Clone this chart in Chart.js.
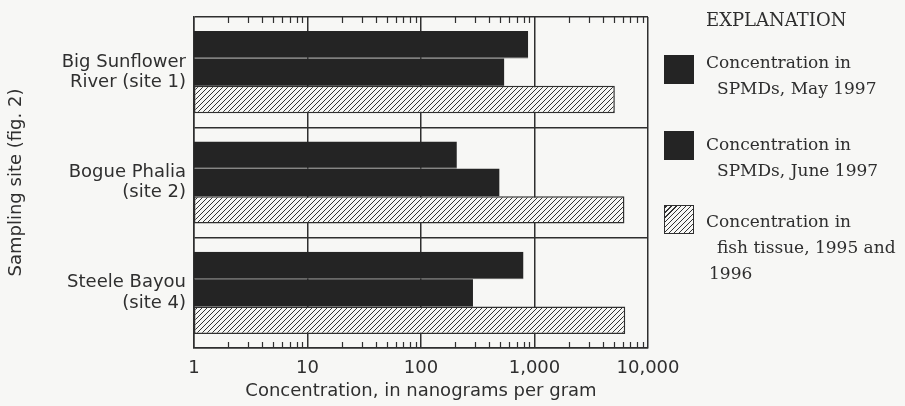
<!DOCTYPE html>
<html lang="en">
<head>
    <meta charset="UTF-8">
    <title>Concentration by sampling site</title>
    <style>
        body {
            margin: 0;
            background: #f7f7f5;
        }
        #wrap {
            position: relative;
            width: 905px;
            height: 406px;
        }
        #legend {
            position: absolute;
            left: 0;
            top: 0;
            font-family: "DejaVu Serif", serif;
            font-size: 17px;
            color: #2e2e2e;
        }
        .leg-title {
            position: absolute;
            left: 706px;
            top: 10px;
            font-size: 18px;
            line-height: 20px;
            white-space: nowrap;
        }
        .leg-item {
            position: absolute;
            left: 664px;
            white-space: nowrap;
        }
        .leg-box {
            position: absolute;
            left: 0;
            width: 30px;
            height: 29px;
            box-sizing: border-box;
        }
        .leg-line {
            position: absolute;
            line-height: 26px;
        }
    </style>
</head>
<body>
<div id="wrap">
    <canvas id="chart" width="905" height="406"></canvas>
    <div id="legend"></div>
</div>

<script src="https://cdn.jsdelivr.net/npm/chart.js"></script>
<script>
    // values (log scale, ng/g)
    const sites = [
        ['Big Sunflower', 'River (site 1)'],
        ['Bogue Phalia', '(site 2)'],
        ['Steele Bayou', '(site 4)']
    ];
    const mayValues = [880, 207, 800];
    const juneValues = [540, 490, 287];
    const fishValues = [5100, 6200, 6300];

    const xTickValues = [1, 10, 100, 1000, 10000];
    const xTickLabels = ['1', '10', '100', '1,000', '10,000'];

    const legendLines = [
        ['Concentration in', 'SPMDs, May 1997'],
        ['Concentration in', 'SPMDs, June 1997'],
        ['Concentration in', 'fish tissue, 1995 and', '1996']
    ];

    const ink = '#2f2f2f';
    const barDark = '#242424';
    const paper = '#f7f7f5';

    function hatchPattern() {
        const c = document.createElement('canvas');
        c.width = 5;
        c.height = 5;
        const g = c.getContext('2d');
        g.fillStyle = paper;
        g.fillRect(0, 0, 5, 5);
        g.strokeStyle = '#333';
        g.lineWidth = 1;
        g.beginPath();
        g.moveTo(0, 5); g.lineTo(5, 0);
        g.moveTo(-1, 1); g.lineTo(1, -1);
        g.moveTo(4, 6); g.lineTo(6, 4);
        g.stroke();
        return g.createPattern(c, 'repeat');
    }
    const hatch = hatchPattern();

    // short log ticks inside the top and bottom edges
    const minorTicks = {
        id: 'minorTicks',
        afterDraw(chart) {
            const {ctx, chartArea: a, scales: {x}} = chart;
            ctx.save();
            ctx.strokeStyle = ink;
            ctx.lineWidth = 1.2;
            for (let d = 1; d < 10000; d *= 10) {
                for (let m = 2; m <= 9; m++) {
                    const px = Math.round(x.getPixelForValue(d * m)) + 0.5;
                    ctx.beginPath();
                    ctx.moveTo(px, a.top);
                    ctx.lineTo(px, a.top + 6);
                    ctx.moveTo(px, a.bottom);
                    ctx.lineTo(px, a.bottom - 6);
                    ctx.stroke();
                }
            }
            ctx.restore();
        }
    };

    const sansFont = {family: '"DejaVu Sans", sans-serif', size: 18};

    const chart = new Chart(document.getElementById('chart'), {
        type: 'bar',
        data: {
            labels: sites,
            datasets: [{
                label: legendLines[0].join(' '),
                data: mayValues,
                backgroundColor: barDark,
                borderColor: '#5a5a5a',
                borderWidth: {top: 0, right: 0, bottom: 1, left: 0},
                borderSkipped: false
            }, {
                label: legendLines[1].join(' '),
                data: juneValues,
                backgroundColor: barDark,
                borderWidth: 0
            }, {
                label: legendLines[2].join(' '),
                data: fishValues,
                backgroundColor: hatch,
                borderColor: ink,
                borderWidth: 1.5,
                borderSkipped: false
            }]
        },
        options: {
            indexAxis: 'y',
            responsive: false,
            animation: false,
            categoryPercentage: 0.745,
            barPercentage: 1.0,
            layout: {
                padding: {top: 17, right: 257, left: 0, bottom: 0}
            },
            plugins: {
                legend: {display: false},
                tooltip: {enabled: false}
            },
            scales: {
                x: {
                    type: 'logarithmic',
                    min: 1,
                    max: 10000,
                    z: 1,
                    afterBuildTicks: s => {
                        s.ticks = xTickValues.map(v => ({value: v, major: true}));
                    },
                    afterFit: s => {
                        s.height = 58;
                        s.paddingLeft = 0;
                        s.paddingRight = 0;
                    },
                    ticks: {
                        autoSkip: false,
                        maxRotation: 0,
                        padding: 10,
                        color: ink,
                        font: sansFont,
                        callback: (v) => xTickLabels[xTickValues.indexOf(v)]
                    },
                    grid: {
                        color: ink,
                        lineWidth: 1.5,
                        drawTicks: false
                    },
                    border: {color: ink, width: 1.5},
                    title: {
                        display: true,
                        text: 'Concentration, in nanograms per gram',
                        color: ink,
                        font: sansFont,
                        padding: {top: 0, bottom: 4}
                    }
                },
                y: {
                    afterFit: s => {
                        s.width = 194;
                        s.paddingTop = 0;
                        s.paddingBottom = 0;
                    },
                    ticks: {
                        padding: 8,
                        color: ink,
                        font: {family: sansFont.family, size: 18, lineHeight: 1.12}
                    },
                    grid: {
                        color: ink,
                        lineWidth: 1.5,
                        drawTicks: false
                    },
                    border: {color: ink, width: 1.5},
                    title: {
                        display: true,
                        text: 'Sampling site (fig. 2)',
                        color: ink,
                        font: sansFont,
                        padding: {top: 6, bottom: 0}
                    }
                }
            }
        },
        plugins: [minorTicks]
    });

    // legend drawn as html beside the plot
    const legendTops = [49, 131, 208];
    const boxTops = [55, 131, 205];
    const lineIndent = [[42, 53], [42, 53], [42, 53, 45]];
    const legend = document.getElementById('legend');
    legend.innerHTML = '<div class="leg-title">EXPLANATION</div>';
    chart.data.datasets.forEach((ds, i) => {
        const item = document.createElement('div');
        item.className = 'leg-item';
        item.style.top = legendTops[i] + 'px';
        const box = document.createElement('div');
        box.className = 'leg-box';
        box.style.top = (boxTops[i] - legendTops[i]) + 'px';
        if (ds.backgroundColor === hatch) {
            box.style.border = '1.5px solid ' + ink;
            box.style.background = 'repeating-linear-gradient(-45deg, ' + paper + ' 0 2.4px, #333 2.4px 3.5px)';
        } else {
            box.style.background = barDark;
        }
        item.appendChild(box);
        legendLines[i].forEach((t, j) => {
            const line = document.createElement('div');
            line.className = 'leg-line';
            line.style.left = lineIndent[i][j] + 'px';
            line.style.top = (j * 26) + 'px';
            line.textContent = t;
            item.appendChild(line);
        });
        legend.appendChild(item);
    });
</script>
</body>
</html>
